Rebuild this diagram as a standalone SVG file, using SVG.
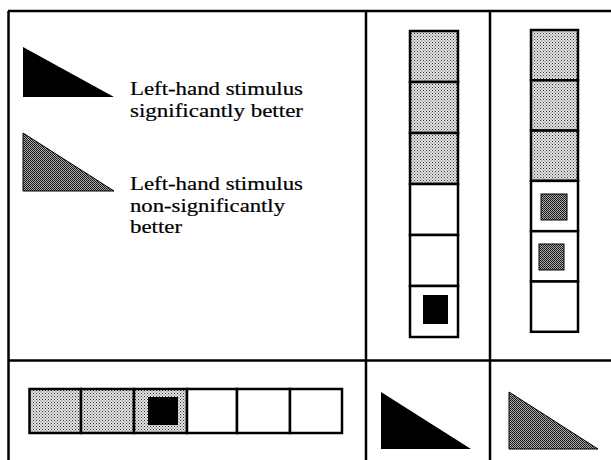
<svg xmlns="http://www.w3.org/2000/svg" width="611" height="460" viewBox="0 0 611 460">
<defs>
<pattern id="light" patternUnits="userSpaceOnUse" width="3" height="3">
<rect width="3" height="3" fill="#e4e4e4"/>
<rect x="0" y="0" width="1" height="1" fill="#333"/>
<rect x="1.5" y="1.5" width="1" height="1" fill="#555"/>
</pattern>
<pattern id="dark" patternUnits="userSpaceOnUse" width="2" height="2">
<rect width="2" height="2" fill="#aaa"/>
<rect x="0" y="0" width="1" height="1" fill="#111"/>
<rect x="1" y="1" width="1" height="1" fill="#222"/>
</pattern>
</defs>
<style>
.frame{stroke:#000;stroke-width:2.5;fill:none}
.cell{stroke:#000;stroke-width:2.5;fill:#fff}
.lt{fill:url(#light)}
.blk{fill:#000}
.dk{fill:url(#dark);stroke:#000;stroke-width:1}
.lbl{font-family:"Liberation Serif","Times New Roman",serif;font-size:19px;fill:#000;stroke:#000;stroke-width:0.2}
</style>
<rect width="611" height="460" fill="#fff"/>
<g id="frame">
<path class="frame" d="M8,11 H611 M8.5,11 V460 M366,11 V460 M490,11 V460 M8,360.5 H611"/>
</g>
<g id="legend">
<polygon class="blk" points="23,47 23,97 114,97"/>
<text class="lbl" x="130" y="95" textLength="173" lengthAdjust="spacingAndGlyphs">Left-hand stimulus</text>
<text class="lbl" x="130" y="116.5" textLength="173" lengthAdjust="spacingAndGlyphs">significantly better</text>
<polygon class="dk" points="23,133 23,191 114,191"/>
<text class="lbl" x="130" y="190" textLength="173" lengthAdjust="spacingAndGlyphs">Left-hand stimulus</text>
<text class="lbl" x="130" y="211.5" textLength="155" lengthAdjust="spacingAndGlyphs">non-significantly</text>
<text class="lbl" x="130" y="233" textLength="52" lengthAdjust="spacingAndGlyphs">better</text>
</g>
<g id="column1">
<rect class="cell lt" x="410" y="31" width="48" height="51"/>
<rect class="cell lt" x="410" y="82" width="48" height="51"/>
<rect class="cell lt" x="410" y="133" width="48" height="51"/>
<rect class="cell" x="410" y="184" width="48" height="51"/>
<rect class="cell" x="410" y="235" width="48" height="51"/>
<rect class="cell" x="410" y="286" width="48" height="51"/>
<rect class="blk" x="423" y="295" width="25" height="29"/>
</g>
<g id="column2">
<rect class="cell lt" x="531" y="30" width="47" height="50.3"/>
<rect class="cell lt" x="531" y="80.3" width="47" height="50.3"/>
<rect class="cell lt" x="531" y="130.6" width="47" height="50.3"/>
<rect class="cell" x="531" y="180.9" width="47" height="50.3"/>
<rect class="cell" x="531" y="231.2" width="47" height="50.3"/>
<rect class="cell" x="531" y="281.5" width="47" height="50.3"/>
<rect class="dk" x="541" y="194" width="26" height="26" stroke-width="1.5"/>
<rect class="dk" x="539" y="244" width="25" height="26" stroke-width="1.5"/>
</g>
<g id="row">
<rect class="cell lt" x="29.5" y="389" width="51.5" height="44"/>
<rect class="cell lt" x="81" y="389" width="53" height="44"/>
<rect class="cell lt" x="134" y="389" width="53" height="44"/>
<rect class="cell" x="187" y="389" width="50" height="44"/>
<rect class="cell" x="237" y="389" width="53" height="44"/>
<rect class="cell" x="290" y="389" width="52" height="44"/>
<rect class="blk" x="148" y="397" width="30" height="28"/>
</g>
<g id="triangles">
<polygon class="blk" points="381,392 381,449 471,449"/>
<polygon class="dk" points="509,392 509,449 598,449"/>
</g>
</svg>
